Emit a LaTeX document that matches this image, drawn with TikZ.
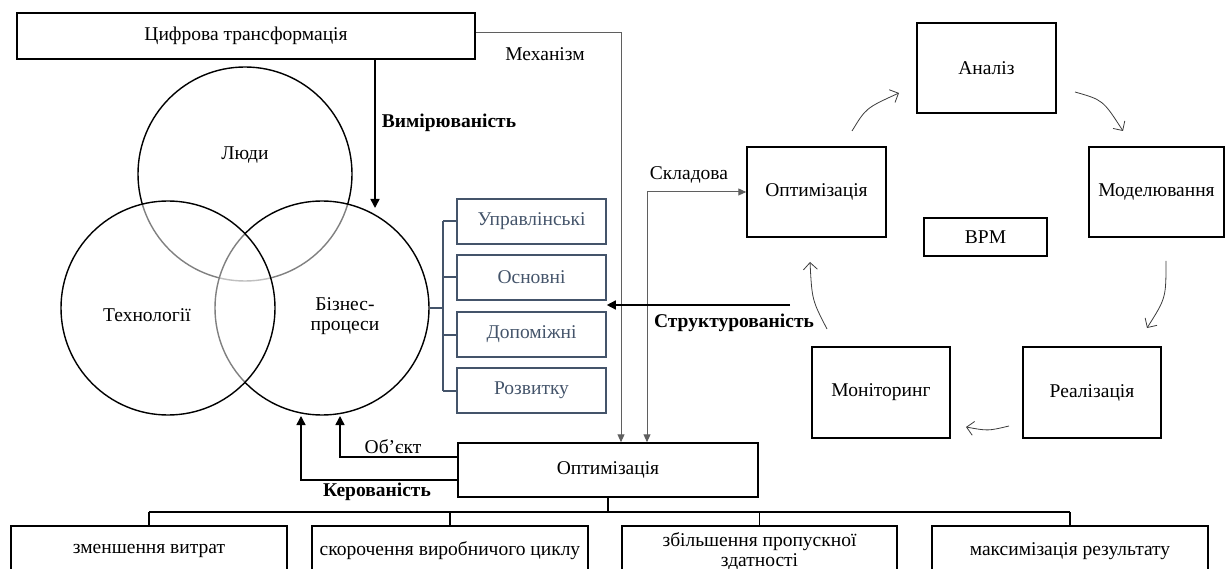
\documentclass[tikz,border=0pt]{standalone}
\usepackage{fontspec}
\setmainfont{Liberation Serif}
\usetikzlibrary{arrows.meta}
\definecolor{slate}{RGB}{68,84,106}
\definecolor{lgray}{RGB}{95,95,95}
\definecolor{cgray}{RGB}{60,60,60}
\begin{document}
\begin{tikzpicture}[x=1pt,y=-1pt,
  every node/.style={font=\fontsize{19.5}{20}\selectfont, inner sep=0pt},
  sz/.style 2 args={minimum width=#1pt, minimum height=#2pt},
  box/.style={draw, line width=1.5pt, inner sep=0pt, align=center},
  pbox/.style={draw=slate, text=slate, line width=1.6pt, inner sep=0pt, minimum width=149pt, minimum height=45pt},
  venn/.style={circle, draw, line width=1.4pt, fill=white, fill opacity=0.5, minimum size=214pt, inner sep=0pt},
  blab/.style={font=\fontsize{19.5}{20}\selectfont\bfseries},
  barr/.style={line width=1.5pt, -{Triangle[length=9pt,width=9pt]}},
  garr/.style={draw=lgray, line width=1pt, -{Triangle[length=8pt,width=7pt]}},
  gdarr/.style={draw=lgray, line width=1pt, {Triangle[length=8pt,width=7pt]}-{Triangle[length=8pt,width=7pt]}},
  cyc/.style={draw=cgray, line width=0.8pt, -{Straight Barb[length=7pt,width=14pt]}},
  busline/.style={line width=1.4pt},
  brk/.style={draw=slate, line width=2pt},
]
\useasboundingbox (0,0) rectangle (1226,569);
\clip (0,0) rectangle (1226,569);

% top box
\node[box, sz={458}{46}] (ct) at (246,36) {Цифрова трансформація};

% Venn circles
\node[venn] (lyudy) at (245,174) {};
\node[venn] (biz) at (322,308) {};
\node[venn] (tech) at (168,308) {};
\node (tlyudy) at (245,155) {Люди};
\node (ttech) at (147,315) {Технології};
\node[align=center] (tbiz) at (345,316) {Бізнес-\\процеси};

% process types
\node[pbox] (p1) at (531.5,221.5) {Управлінські};
\node[pbox] (p2) at (531.5,277.5) {Основні};
\node[pbox] (p3) at (531.5,334.5) {Допоміжні};
\node[pbox] (p4) at (531.5,390.5) {Розвитку};
\coordinate (bx) at (443,0);
\draw[brk] (biz.east) -- (bx |- biz.east);
\draw[brk] (bx |- p1.west) -- (bx |- p4.west);
\foreach \p in {p1,p2,p3,p4} \draw[brk] (bx |- \p.west) -- (\p.west);

% optimisation box
\node[box, sz={300}{54}] (opt) at (608,470) {Оптимізація};

% BPM cycle
\node[box, sz={139}{90}] (optr) at (816.5,192) {Оптимізація};
\node[box, sz={139}{90}] (an) at (986.5,68) {Аналіз};
\node[box, sz={135}{90}] (mod) at (1156.5,192) {Моделювання};
\node[box, sz={123}{38}] (bpm) at (985.5,237) {BPM};
\node[box, sz={138}{91}] (mon) at (881,392.5) {Моніторинг};
\node[box, sz={138}{91}] (real) at (1092,392.5) {Реалізація};

% bottom row
\node[box, sz={276}{50}] (b1) at (149,551) {зменшення витрат};
\node[box, sz={276}{50}] (b2) at (450,551) {скорочення виробничого циклу};
\node[box, sz={275}{50}] (b3) at (759.5,551) {збільшення пропускної\\здатності};
\node[box, sz={276}{50}] (b4) at (1070,551) {максимізація результату};

% connectors
\coordinate (mx) at (621,0);
\draw[garr] ([yshift=3pt]ct.east) -| (mx |- opt.north);
\node (mech) at (545,54) {Механізм};

\coordinate (vt) at (375,208);
\draw[barr] (ct.south -| vt) -- (vt);
\node[blab] (vim) at (449,123) {Вимірюваність};

\coordinate (sx) at (647,0);
\draw[gdarr] (sx |- opt.north) |- (optr.west);
\node (skl) at (689,175) {Складова};

\coordinate (st) at (790,305);
\draw[barr] (st) -- (st -| p2.east);
\node[blab] (str) at (734,323) {Структурованість};

\coordinate (o1) at (340,416);
\coordinate (o2) at (301,416);
\draw[barr] ([yshift=13pt]opt.west) -| (o1);
\draw[barr] ([yshift=-10pt]opt.west) -| (o2);
\node (obj) at (393,447) {Об’єкт};
\node[blab] (ker) at (377,492) {Керованість};

\coordinate (bus) at (0,512);
\draw[busline] (opt.south) -- (opt.south |- bus);
\draw[busline] (b1.north |- bus) -- (b4.north |- bus);
\foreach \b in {b1,b2,b3,b4} \draw[busline] (\b.north |- bus) -- (\b.north);

% cycle arrows
\coordinate (c1s) at (852,131); \coordinate (c1e) at (899,93);
\coordinate (c2s) at (1075,92); \coordinate (c2e) at (1123,131);
\coordinate (c3s) at (1166,261); \coordinate (c3e) at (1147,328);
\coordinate (c4s) at (1009,426); \coordinate (c4e) at (966,427);
\coordinate (c5s) at (827,329); \coordinate (c5e) at (810,262);
\draw[cyc] (c1s) .. controls (866,108) .. (c1e);
\draw[cyc] (c2s) .. controls (1103,100) .. (c2e);
\draw[cyc] (c3s) .. controls (1166,298) .. (c3e);
\draw[cyc] (c4s) .. controls (988,431) .. (c4e);
\draw[cyc] (c5s) .. controls (812,300) .. (c5e);
\end{tikzpicture}
\end{document}
